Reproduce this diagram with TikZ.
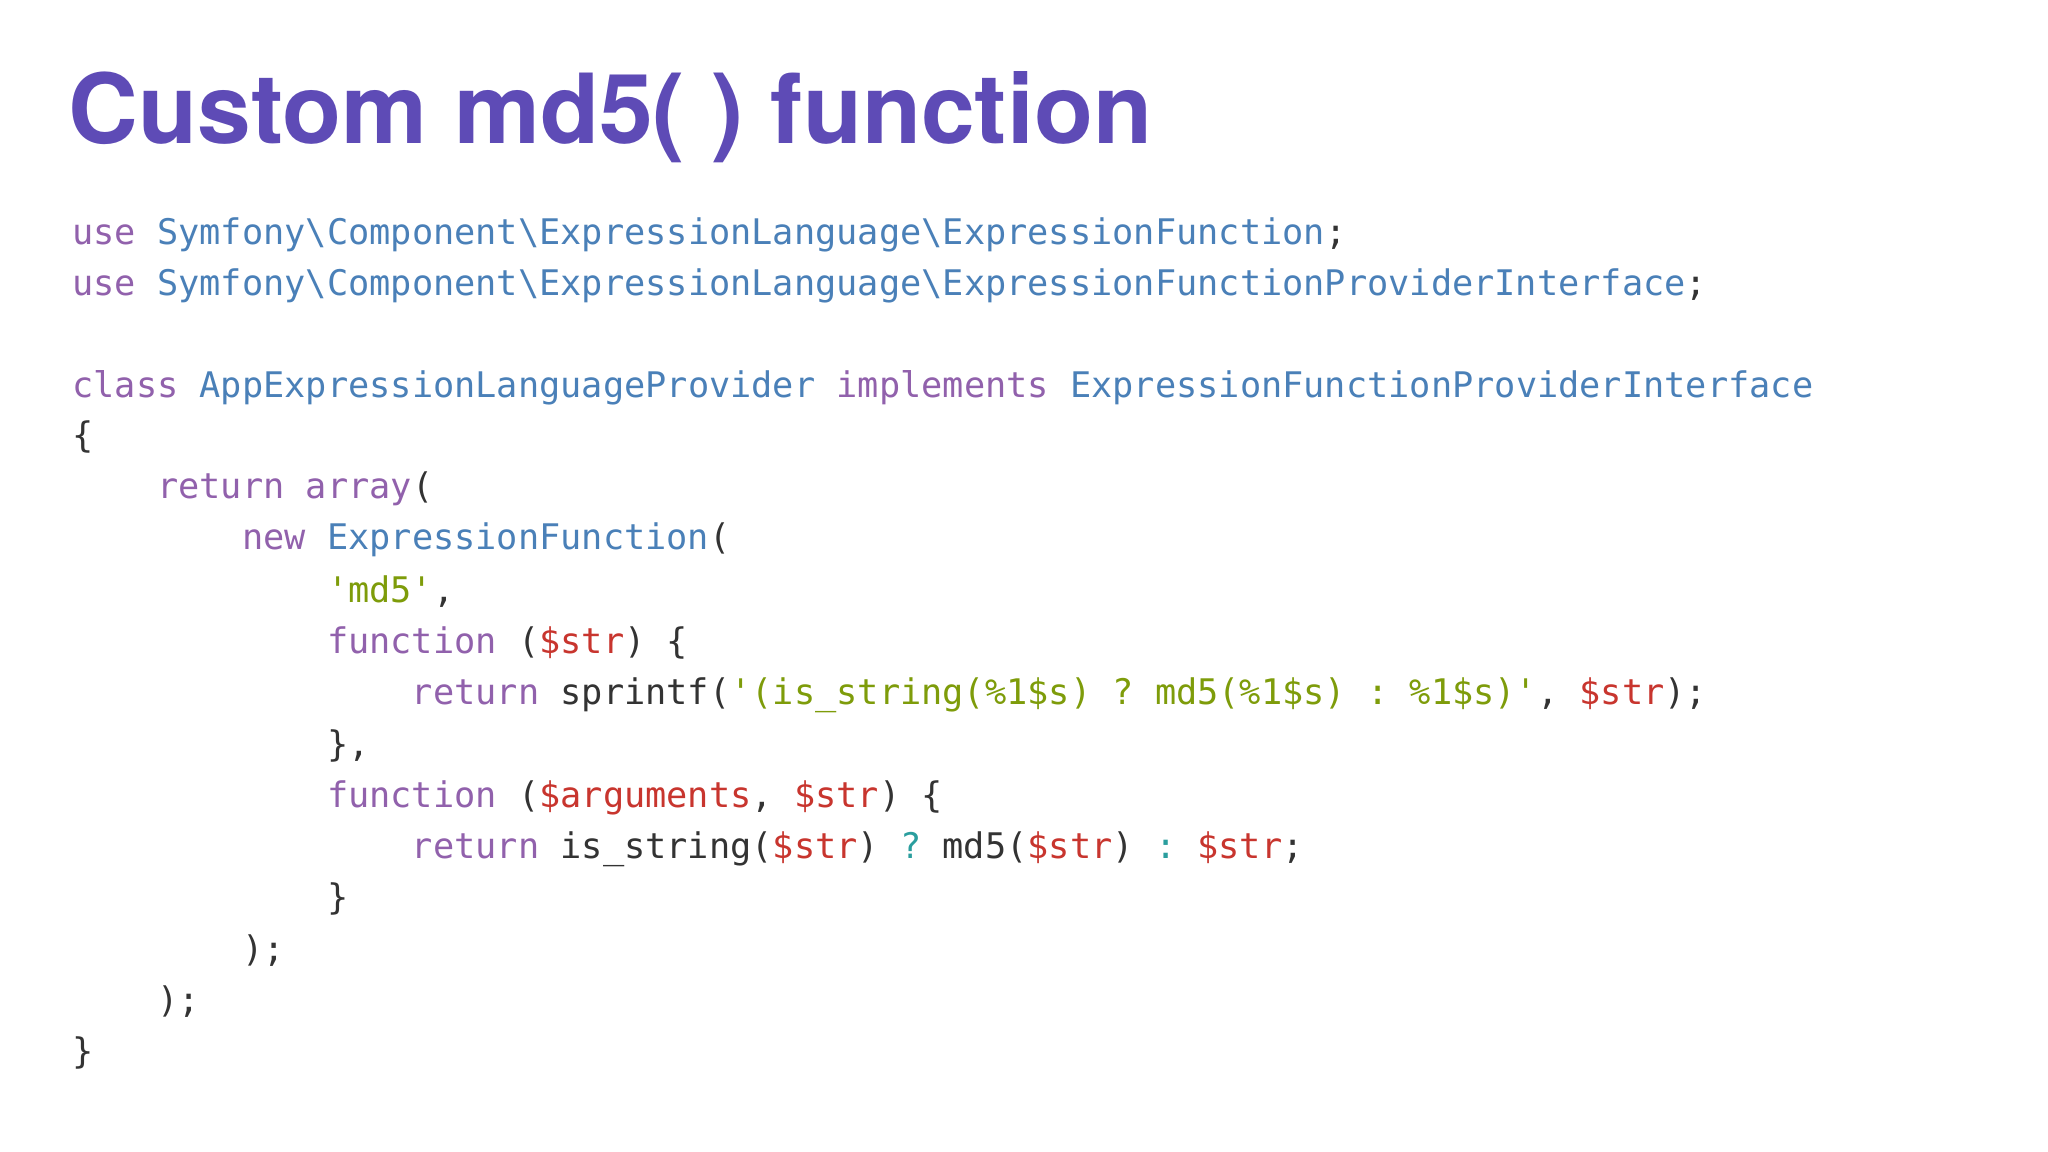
\documentclass[tikz,border=0pt]{standalone}
\usepackage{fontspec}
\setmainfont{TeX Gyre Heros}
\setmonofont{DejaVu Sans Mono}
\definecolor{kwc}{HTML}{9161AC}
\definecolor{clc}{HTML}{4A80B8}
\definecolor{stc}{HTML}{7E9C0A}
\definecolor{vac}{HTML}{C8352E}
\definecolor{opc}{HTML}{2A9E9E}
\definecolor{txc}{HTML}{333333}
\definecolor{tic}{HTML}{5E4BB6}
\newcommand{\kw}[1]{\textcolor{kwc}{#1}}
\newcommand{\cl}[1]{\textcolor{clc}{#1}}
\newcommand{\st}[1]{\textcolor{stc}{#1}}
\newcommand{\va}[1]{\textcolor{vac}{#1}}
\newcommand{\op}[1]{\textcolor{opc}{#1}}
\newcommand{\bs}{\textbackslash}
\begin{document}
\begin{tikzpicture}[x=0.5pt,y=-0.5pt,
  codeline/.style={anchor=base west,inner sep=0pt,text=txc,font=\ttfamily\fontsize{13.5pt}{16pt}\selectfont},
  titletext/.style={anchor=base west,inner sep=0pt,text=tic,font=\bfseries\fontsize{37pt}{40pt}\selectfont}]
\fill[white] (0,0) rectangle (1568,882);
\useasboundingbox (0,0) rectangle (1568,882);
\node[titletext] (title) at (52,110) {Custom md5( ) function};
\def\ch{16.25}
\node[codeline] (l1) at (55,187) {\kw{use} \cl{Symfony\bs Component\bs ExpressionLanguage\bs ExpressionFunction};};
\node[codeline] (l2) at (55,226) {\kw{use} \cl{Symfony\bs Component\bs ExpressionLanguage\bs ExpressionFunctionProviderInterface};};
\node[codeline] (l3) at (55,304) {\kw{class} \cl{AppExpressionLanguageProvider} \kw{implements} \cl{ExpressionFunctionProviderInterface}};
\node[codeline] (l4) at (55,343) {\{};
\node[codeline] (l5) at (120,382) {\kw{return} \kw{array}(};
\node[codeline] (l6) at (185,421) {\kw{new} \cl{ExpressionFunction}(};
\node[codeline] (l7) at (250,461) {\st{'md5'},};
\node[codeline] (l8) at (250,500) {\kw{function} (\va{\$str}) \{};
\node[codeline] (l9) at (315,539) {\kw{return} sprintf(\st{'(is\_string(\%1\$s) ? md5(\%1\$s) : \%1\$s)'}, \va{\$str});};
\node[codeline] (l10) at (250,579) {\},};
\node[codeline] (l11) at (250,618) {\kw{function} (\va{\$arguments}, \va{\$str}) \{};
\node[codeline] (l12) at (315,657) {\kw{return} is\_string(\va{\$str}) \op{?} md5(\va{\$str}) \op{:} \va{\$str};};
\node[codeline] (l13) at (250,696) {\}};
\node[codeline] (l14) at (185,736) {);};
\node[codeline] (l15) at (120,775) {);};
\node[codeline] (l16) at (55,814) {\}};
\end{tikzpicture}
\end{document}
